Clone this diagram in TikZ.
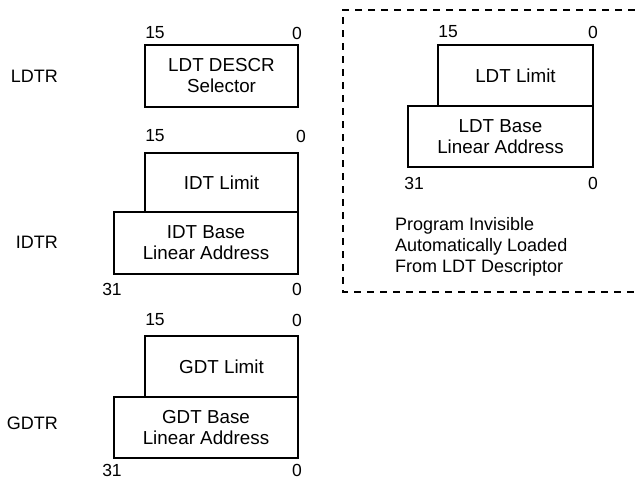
\documentclass[tikz,border=0pt]{standalone}
\usepackage{fontspec}
\setmainfont{Liberation Sans}
\begin{document}
\begin{tikzpicture}[x=1pt,y=-1pt,
  every node/.style={font=\fontsize{18}{21}\selectfont, inner sep=0pt},
  regbox/.style={draw, line width=1.4pt, align=center, font=\fontsize{18.8}{21}\selectfont},
  lbl/.style={anchor=east},
  bitnum/.style={font=\fontsize{17.5}{21}\selectfont}]
\useasboundingbox (0,0) rectangle (635,480);
% LDTR
\node[lbl] (ldtrlbl) at (58,76) {LDTR};
\node[regbox, minimum width=153pt, minimum height=62pt] (ldtrsel) at (221.5,76) {LDT DESCR\\Selector};
\node[bitnum] (l15) at (155,33) {15};
\node[bitnum] (l0) at (297,33) {0};
% IDTR
\node[lbl] (idtrlbl) at (58,242) {IDTR};
\node[regbox, minimum width=153pt, minimum height=59pt] (idtlim) at (221.5,182.5) {IDT Limit};
\node[regbox, minimum width=184pt, minimum height=62pt] (idtbase) at (206,243) {IDT Base\\Linear Address};
\node[bitnum] (i15) at (155,136) {15};
\node[bitnum] (i0) at (301,136) {0};
\node[bitnum] (i31) at (112,289) {31};
\node[bitnum] (i0b) at (297,289) {0};
% GDTR
\node[lbl] (gdtrlbl) at (58,423) {GDTR};
\node[regbox, minimum width=153pt, minimum height=61pt] (gdtlim) at (221.5,366.5) {GDT Limit};
\node[regbox, minimum width=184pt, minimum height=61pt] (gdtbase) at (206,427.5) {GDT Base\\Linear Address};
\node[bitnum] (g15) at (155,320) {15};
\node[bitnum] (g0) at (297,320) {0};
\node[bitnum] (g31) at (112,470) {31};
\node[bitnum] (g0b) at (297,470) {0};
% LDT cache (dashed region)
\coordinate (dtr) at (635,10);
\coordinate (dtl) at (343,10);
\coordinate (dbl) at (343,292);
\coordinate (dbr) at (635,292);
\draw[line width=1.6pt, dash pattern=on 7pt off 6pt] (dtr) -- (dtl) -- (dbl) -- (dbr);
\node[regbox, minimum width=155pt, minimum height=61pt] (ldtlim) at (515.5,75.5) {LDT Limit};
\node[regbox, minimum width=185pt, minimum height=61pt] (ldtbase) at (500.5,136.5) {LDT Base\\Linear Address};
\node[bitnum] (c15) at (448,32) {15};
\node[bitnum] (c0) at (593,32) {0};
\node[bitnum] (c31) at (414,183) {31};
\node[bitnum] (c0b) at (593,183) {0};
\node[anchor=west, align=left] (note) at (395,246.5) {Program Invisible\\Automatically Loaded\\From LDT Descriptor};
\end{tikzpicture}
\end{document}
